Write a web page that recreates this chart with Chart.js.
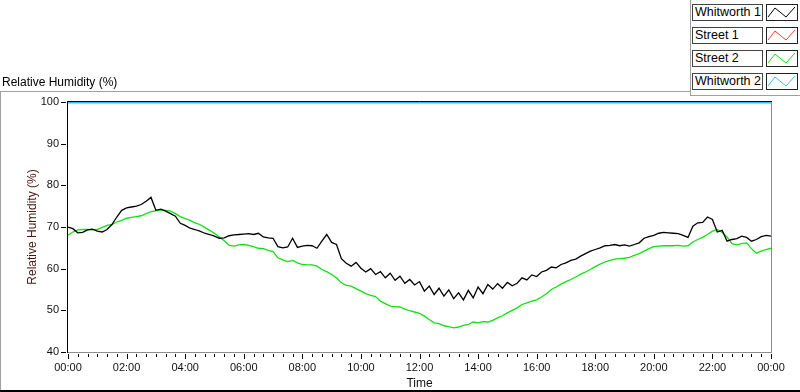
<!DOCTYPE html>
<html lang="en">
<head>
<meta charset="UTF-8">
<title>Relative Humidity</title>
<style>
  body { margin: 0; background: #fff; font-family: "Liberation Sans", Arial, sans-serif; }
  #wrap { position: relative; width: 800px; height: 392px; overflow: hidden; }
  #hum { position: absolute; left: 0; top: 0; }
  .panelTitle { position: absolute; left: 2px; top: 75px; font-size: 12px; color: #000; }
  .hline, .vline { position: absolute; background: #a0a0a0; }
  .legName { position: absolute; left: 692px; width: 67px; height: 15px; border: 1px solid #444;
             font-size: 12.5px; line-height: 15px; padding-left: 2px; background: #fff; color: #000; }
  .legSwatch { position: absolute; left: 766px; width: 30px; height: 15px; border: 1px solid #222; background: #fff; }
  .legSwatch svg { display: block; }
</style>
</head>
<body>
<div id="wrap">
  <canvas id="hum" width="800" height="392"></canvas>
  <div class="panelTitle">Relative Humidity (%)</div>
  <div class="hline" style="left:0; top:91px; width:690px; height:1px;"></div>
  <div class="vline" style="left:0; top:91px; width:1px; height:301px;"></div>
  <div class="hline" style="left:0; top:390px; width:800px; height:2px; background:#000;"></div>
  <div class="vline" style="left:690px; top:0; width:1px; height:95px;"></div>
  <div class="hline" style="left:690px; top:95px; width:110px; height:1px;"></div>
  <div id="legend"></div>
</div>

<script src="https://cdn.jsdelivr.net/npm/chart.js"></script>
<script>
// samples every 10 minutes, 00:00 .. 24:00
const STEP_MIN = 10;

const whitworth1 = [
  70.0, 69.6, 68.6, 68.7, 69.3, 69.5, 69.0, 68.8, 69.4, 70.6, 72.4, 74.0,
  74.6, 74.8, 75.0, 75.4, 76.2, 77.1, 74.0, 74.3, 73.8, 73.2, 72.6, 70.9,
  70.4, 69.7, 69.4, 69.0, 68.5, 68.2, 67.8, 67.3, 67.4, 67.9, 68.1, 68.2,
  68.3, 68.4, 68.2, 68.5, 67.6, 67.4, 67.3, 65.3, 65.0, 65.2, 67.3, 65.1,
  65.4, 65.6, 65.5, 64.9, 66.6, 68.2, 66.3, 65.8, 62.4, 61.3, 60.6, 61.5,
  60.1, 59.2, 60.0, 58.6, 59.3, 57.8, 58.9, 57.2, 58.2, 56.5, 57.4, 56.1,
  56.9, 54.6, 55.8, 53.8, 55.3, 53.4, 54.9, 52.8, 54.2, 52.5, 54.8, 53.0,
  55.6, 54.0, 56.2, 55.1, 56.4, 55.3, 56.7, 55.9, 56.5, 57.8, 57.3, 58.5,
  58.1, 59.2, 59.6, 60.4, 60.2, 61.0, 61.4, 62.0, 62.3, 63.0, 63.6, 64.2,
  64.6, 65.0, 65.5, 65.6, 65.8, 65.5, 65.7, 65.4, 65.8, 66.2, 67.3, 67.7,
  68.0, 68.5, 68.7, 68.6, 68.5, 68.4, 68.0, 67.5, 70.2, 71.0, 71.1, 72.4,
  71.8, 68.8, 69.2, 66.6, 67.0, 67.2, 67.8, 67.5, 66.6, 67.0, 67.7, 68.0,
  67.8
];

const street2 = [
  68.0, 68.8, 69.3, 69.4, 69.4, 69.3, 69.4, 69.9, 70.4, 70.6, 71.2, 71.6,
  72.1, 72.3, 72.5, 72.7, 73.2, 73.7, 73.9, 74.1, 74.0, 73.8, 73.2, 72.5,
  72.0, 71.6, 71.0, 70.6, 69.9, 69.2, 68.5, 67.6, 66.7, 65.6, 65.4, 65.7,
  65.8, 65.6, 65.3, 64.9, 64.8, 64.4, 64.1, 62.6, 62.1, 61.7, 62.0, 61.4,
  61.0, 60.9, 60.9, 60.6, 59.8, 59.3, 58.6, 57.8, 56.6, 56.0, 55.8, 55.2,
  54.6, 54.0, 53.6, 53.3, 52.2, 51.6, 51.0, 50.9, 50.8, 50.3, 49.9, 49.6,
  49.3, 48.6, 47.8, 47.0, 46.8, 46.3, 46.1, 45.8, 46.0, 46.4, 46.6, 47.2,
  47.0, 47.3, 47.2, 47.6, 48.2, 48.7, 49.4, 50.0, 50.6, 51.4, 51.8, 52.2,
  52.5, 53.2, 54.0, 55.0, 55.6, 56.3, 56.9, 57.4, 58.0, 58.7, 59.2, 59.8,
  60.5, 61.1, 61.6, 62.0, 62.3, 62.4, 62.5, 62.7, 63.2, 63.6, 64.2, 64.8,
  65.3, 65.4, 65.5, 65.5, 65.5, 65.6, 65.4, 65.5, 66.4, 67.0, 67.5, 68.2,
  69.0, 69.4, 68.7, 67.6, 66.0, 65.7, 66.0, 66.2, 64.8, 63.7, 64.2, 64.6,
  64.9
];

// Whitworth 2 sits at the top of the scale; Street 1 has no visible trace
const whitworth2Times = [0, 1440];
const whitworth2 = [100, 100];
const street1 = [];

const yTicks = [40, 50, 60, 70, 80, 90, 100];
const seriesNames = ['Whitworth 1', 'Street 1', 'Street 2', 'Whitworth 2'];
const seriesColors = ['#000000', '#ff3a3a', '#12e012', '#3fb6f5'];

function toPoints(vals, times) {
  return vals.map((v, i) => ({ x: times ? times[i] : i * STEP_MIN, y: v }));
}

function hhmm(m) {
  const h = Math.floor(m / 60) % 24;
  return String(h).padStart(2, '0') + ':00';
}

// legend boxes (top right)
const legend = document.getElementById('legend');
seriesNames.forEach((name, k) => {
  const top = 4 + k * 23;
  const nm = document.createElement('div');
  nm.className = 'legName';
  nm.style.top = top + 'px';
  nm.textContent = name;
  legend.appendChild(nm);
  const sw = document.createElement('div');
  sw.className = 'legSwatch';
  sw.style.top = top + 'px';
  sw.innerHTML = '<svg width="30" height="15"><polyline points="1,12 8,3 19,12 28,2" fill="none" stroke="' +
    seriesColors[k] + '" stroke-width="1"/></svg>';
  legend.appendChild(sw);
});

// axis frame and tick marks
const framePlugin = {
  id: 'framePlugin',
  afterDraw(chart) {
    const { ctx, chartArea: a, scales: { x, y } } = chart;
    ctx.save();
    ctx.lineWidth = 1;
    ctx.strokeStyle = '#000';
    ctx.beginPath();
    for (let m = 0; m <= 1440; m += 20) {
      const px = Math.round(x.getPixelForValue(m)) + 0.5;
      ctx.moveTo(px, a.bottom + 2);
      ctx.lineTo(px, a.bottom + (m % 120 === 0 ? 7 : 5));
    }
    yTicks.forEach(v => {
      const py = Math.round(y.getPixelForValue(v)) + 0.5;
      ctx.moveTo(a.left - 7, py);
      ctx.lineTo(a.left - 2, py);
    });
    ctx.stroke();

    ctx.beginPath();
    ctx.moveTo(a.left - 0.5, a.top - 0.5);
    ctx.lineTo(a.right + 1, a.top - 0.5);
    ctx.moveTo(a.left - 0.5, a.top - 1);
    ctx.lineTo(a.left - 0.5, a.bottom + 1);
    ctx.stroke();

    ctx.strokeStyle = '#8c8c8c';
    ctx.beginPath();
    ctx.moveTo(a.right + 0.5, a.top);
    ctx.lineTo(a.right + 0.5, a.bottom + 1);
    ctx.moveTo(a.left, a.bottom + 0.5);
    ctx.lineTo(a.right + 1, a.bottom + 0.5);
    ctx.stroke();
    ctx.restore();
  }
};

const datasets = [
  { label: seriesNames[0], data: toPoints(whitworth1), borderColor: seriesColors[0], borderWidth: 1.3 },
  { label: seriesNames[1], data: toPoints(street1), borderColor: seriesColors[1], borderWidth: 1.3 },
  { label: seriesNames[2], data: toPoints(street2), borderColor: seriesColors[2], borderWidth: 1.3 },
  { label: seriesNames[3], data: toPoints(whitworth2, whitworth2Times), borderColor: seriesColors[3], borderWidth: 3 }
].map(d => Object.assign(d, { pointRadius: 0, tension: 0, fill: false }));

new Chart(document.getElementById('hum').getContext('2d'), {
  type: 'line',
  data: { datasets: datasets },
  plugins: [framePlugin],
  options: {
    responsive: false,
    animation: false,
    layout: { padding: { top: 102, right: 29, left: 0, bottom: 0 } },
    plugins: { legend: { display: false }, tooltip: { enabled: false } },
    scales: {
      x: {
        type: 'linear',
        min: 0,
        max: 1440,
        afterFit: s => { s.height = 40; },
        grid: { display: false, drawTicks: true, tickLength: 6 },
        border: { display: false },
        ticks: {
          stepSize: 120,
          autoSkip: false,
          maxRotation: 0,
          padding: 3,
          color: '#111',
          font: { family: 'Liberation Sans', size: 11 },
          callback: v => hhmm(v)
        },
        title: {
          display: true,
          text: 'Time',
          color: '#111',
          font: { family: 'Liberation Sans', size: 12 },
          padding: { top: 0, bottom: 1 }
        }
      },
      y: {
        min: 40,
        max: 100,
        afterFit: s => { s.width = 68; },
        grid: { display: false, drawTicks: true, tickLength: 6 },
        border: { display: false },
        ticks: {
          stepSize: 10,
          padding: 3,
          color: '#111',
          font: { family: 'Liberation Sans', size: 11 }
        },
        title: {
          display: true,
          text: 'Relative Humidity (%)',
          color: '#4a1414',
          font: { family: 'Liberation Sans', size: 12 },
          padding: { top: 25, bottom: 0 }
        }
      }
    }
  }
});
</script>
</body>
</html>
